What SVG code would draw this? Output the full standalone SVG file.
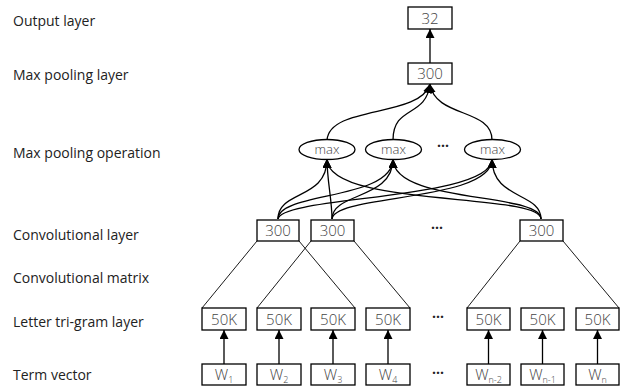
<svg xmlns="http://www.w3.org/2000/svg" width="625" height="388" viewBox="0 0 625 388">
<style>
.lbl{font-family:"Open Sans","Noto Sans",sans-serif;font-size:14px;fill:#222}
.bx{fill:#fff;stroke:#000;stroke-width:1.3}
.el{fill:#fff;stroke:#000;stroke-width:1.3}
.t{font-family:"Open Sans","Noto Sans",sans-serif;font-size:15px;font-weight:300;fill:#444;text-anchor:middle}
.ts{font-family:"Open Sans","Noto Sans",sans-serif;font-size:13px;font-weight:300;fill:#444;text-anchor:middle}
.sub{font-size:9px}
.c{fill:none;stroke:#000;stroke-width:1.3}
.thin{fill:none;stroke:#000;stroke-width:0.9}
.dots{font-family:"Open Sans","Noto Sans",sans-serif;font-size:14px;font-weight:bold;fill:#222;text-anchor:middle}
</style>
<defs>
<marker id="ah" markerUnits="userSpaceOnUse" markerWidth="9" markerHeight="9" refX="9" refY="4.5" orient="auto">
<path d="M0,0 L9,4.5 L0,9 z" fill="#000"/>
</marker>
</defs>

<g id="labels">
<text class="lbl" x="13" y="26">Output layer</text>
<text class="lbl" x="13" y="80">Max pooling layer</text>
<text class="lbl" x="13" y="158">Max pooling operation</text>
<text class="lbl" x="13" y="240">Convolutional layer</text>
<text class="lbl" x="13" y="283">Convolutional matrix</text>
<text class="lbl" x="13" y="327">Letter tri-gram layer</text>
<text class="lbl" x="13" y="380">Term vector</text>
</g>

<g id="connectors">
<path class="c" d="M430,63 L430,29" marker-end="url(#ah)"/>
<path class="c" d="M327,140 C330,105 420,118 430,84" marker-end="url(#ah)"/>
<path class="c" d="M393,140 C393,105 426,118 430,84" marker-end="url(#ah)"/>
<path class="c" d="M492,140 C492,108 435,118 430,84" marker-end="url(#ah)"/>

<path class="c" d="M278,219 C278,190 327,200 327,159" marker-end="url(#ah)"/>
<path class="c" d="M278,219 C278,192 393,200 393,159" marker-end="url(#ah)"/>
<path class="c" d="M278,219 C280,196 492,200 492,159" marker-end="url(#ah)"/>
<path class="c" d="M332,219 C332,200 327,180 327,159" marker-end="url(#ah)"/>
<path class="c" d="M332,219 C332,192 393,200 393,159" marker-end="url(#ah)"/>
<path class="c" d="M332,219 C334,194 492,202 492,159" marker-end="url(#ah)"/>
<path class="c" d="M541,219 C541,192 327,208 327,159" marker-end="url(#ah)"/>
<path class="c" d="M541,219 C541,192 393,204 393,159" marker-end="url(#ah)"/>
<path class="c" d="M541,219 C541,192 492,200 492,159" marker-end="url(#ah)"/>

<path class="thin" d="M257,241 L202,308 M299,241 L355,308"/>
<path class="thin" d="M311,241 L257,308 M354,241 L410,308"/>
<path class="thin" d="M520,241 L467,308 M563,241 L619,308"/>

<path class="c" d="M224,364 L224,330" marker-end="url(#ah)"/>
<path class="c" d="M279,364 L279,330" marker-end="url(#ah)"/>
<path class="c" d="M333,364 L333,330" marker-end="url(#ah)"/>
<path class="c" d="M388,364 L388,330" marker-end="url(#ah)"/>
<path class="c" d="M488.5,364 L488.5,330" marker-end="url(#ah)"/>
<path class="c" d="M542.5,364 L542.5,330" marker-end="url(#ah)"/>
<path class="c" d="M597.5,364 L597.5,330" marker-end="url(#ah)"/>
</g>

<g id="out"><rect class="bx" x="408" y="7" width="44" height="22"/><text class="t" x="430" y="23.5">32</text></g>
<g id="pool"><rect class="bx" x="408" y="63" width="44" height="21"/><text class="t" x="430" y="79">300</text></g>

<g id="max1"><ellipse class="el" cx="327" cy="149.5" rx="28" ry="10"/><text class="ts" x="327" y="154">max</text></g>
<g id="max2"><ellipse class="el" cx="393.5" cy="149.5" rx="28" ry="10"/><text class="ts" x="393.5" y="154">max</text></g>
<g id="max3"><ellipse class="el" cx="492.5" cy="149.5" rx="28" ry="10"/><text class="ts" x="492.5" y="154">max</text></g>
<text class="dots" x="443" y="151">···</text>

<g id="conv1"><rect class="bx" x="257" y="220" width="42" height="21"/><text class="t" x="278" y="236">300</text></g>
<g id="conv2"><rect class="bx" x="311" y="220" width="43" height="21"/><text class="t" x="332.5" y="236">300</text></g>
<g id="conv3"><rect class="bx" x="520" y="220" width="43" height="21"/><text class="t" x="541.5" y="236">300</text></g>
<text class="dots" x="437" y="233">···</text>

<g id="l1"><rect class="bx" x="202" y="308" width="44" height="22"/><text class="t" x="224" y="324.5">50K</text></g>
<g id="l2"><rect class="bx" x="257" y="308" width="44" height="22"/><text class="t" x="279" y="324.5">50K</text></g>
<g id="l3"><rect class="bx" x="311" y="308" width="44" height="22"/><text class="t" x="333" y="324.5">50K</text></g>
<g id="l4"><rect class="bx" x="366" y="308" width="44" height="22"/><text class="t" x="388" y="324.5">50K</text></g>
<text class="dots" x="438" y="322">···</text>
<g id="l5"><rect class="bx" x="467" y="308" width="43" height="22"/><text class="t" x="488.5" y="324.5">50K</text></g>
<g id="l6"><rect class="bx" x="521" y="308" width="43" height="22"/><text class="t" x="542.5" y="324.5">50K</text></g>
<g id="l7"><rect class="bx" x="576" y="308" width="43" height="22"/><text class="t" x="597.5" y="324.5">50K</text></g>

<g id="w1"><rect class="bx" x="202" y="364" width="44" height="21"/><text class="t" x="224" y="380">W<tspan class="sub" dy="3">1</tspan></text></g>
<g id="w2"><rect class="bx" x="257" y="364" width="44" height="21"/><text class="t" x="279" y="380">W<tspan class="sub" dy="3">2</tspan></text></g>
<g id="w3"><rect class="bx" x="311" y="364" width="44" height="21"/><text class="t" x="333" y="380">W<tspan class="sub" dy="3">3</tspan></text></g>
<g id="w4"><rect class="bx" x="366" y="364" width="44" height="21"/><text class="t" x="388" y="380">W<tspan class="sub" dy="3">4</tspan></text></g>
<text class="dots" x="438" y="378">···</text>
<g id="w5"><rect class="bx" x="467" y="364" width="43" height="21"/><text class="t" x="488.5" y="380">W<tspan class="sub" dy="3">n-2</tspan></text></g>
<g id="w6"><rect class="bx" x="521" y="364" width="43" height="21"/><text class="t" x="542.5" y="380">W<tspan class="sub" dy="3">n-1</tspan></text></g>
<g id="w7"><rect class="bx" x="576" y="364" width="43" height="21"/><text class="t" x="597.5" y="380">W<tspan class="sub" dy="3">n</tspan></text></g>
</svg>
